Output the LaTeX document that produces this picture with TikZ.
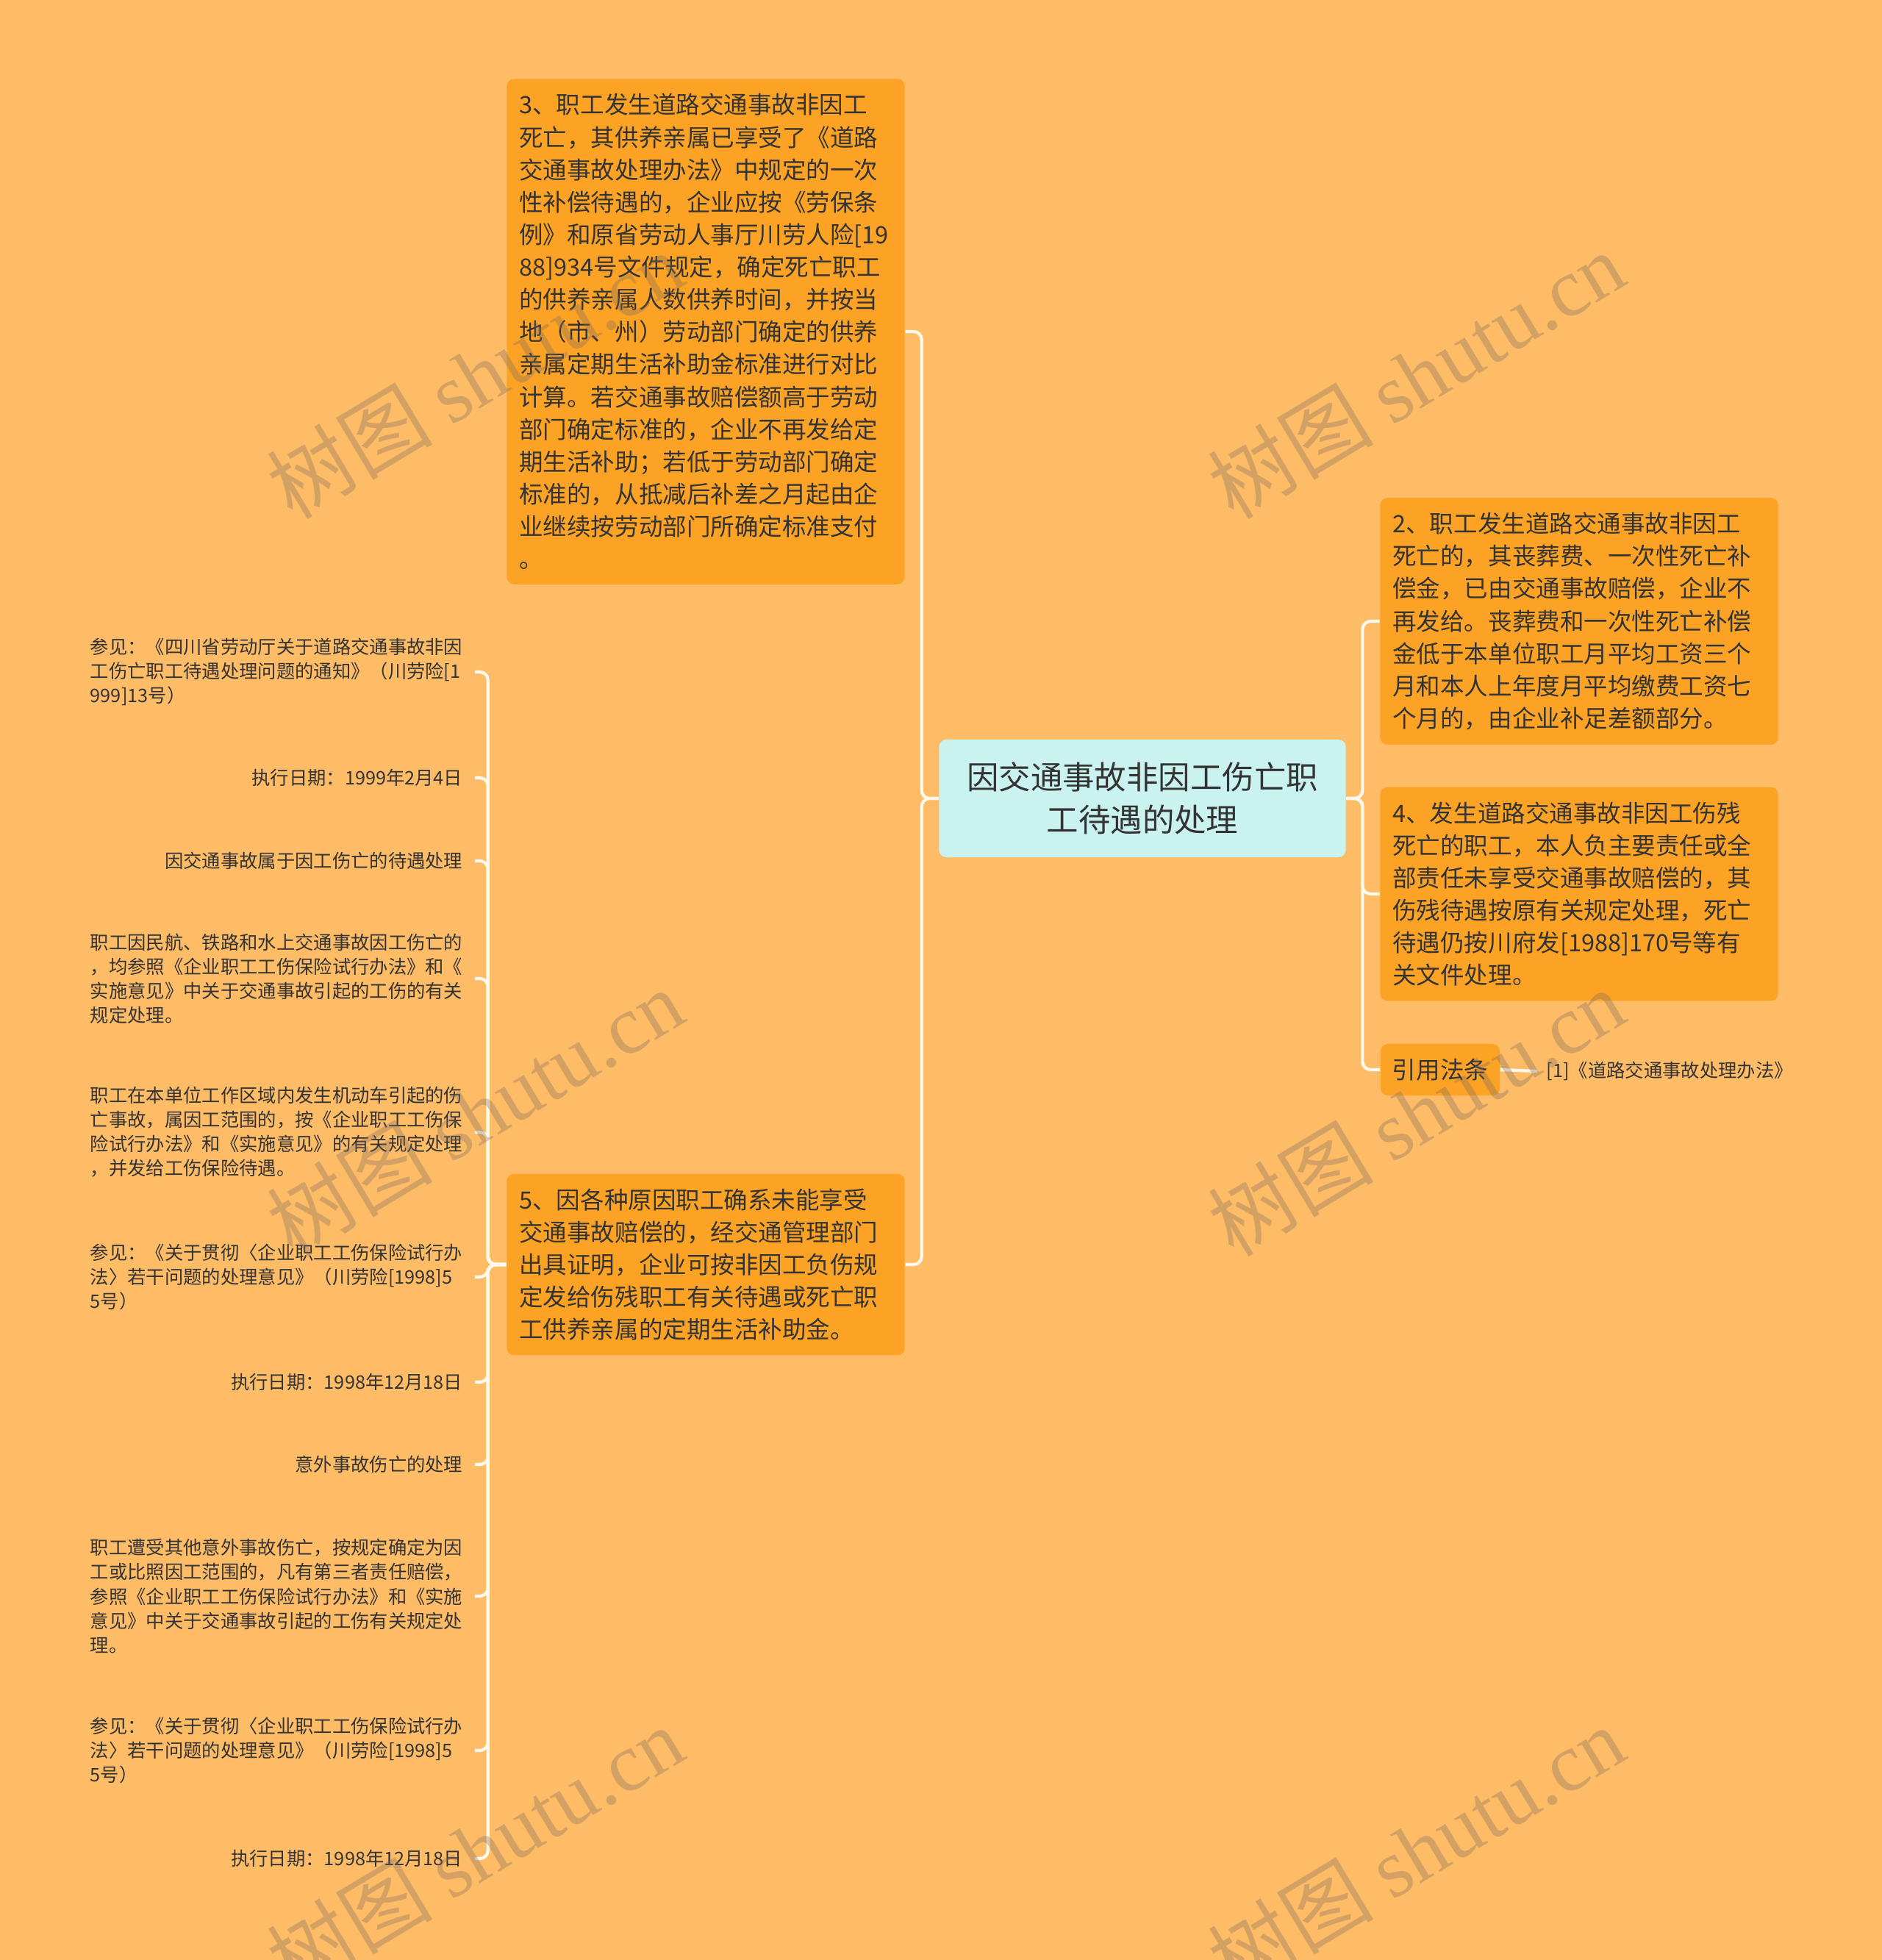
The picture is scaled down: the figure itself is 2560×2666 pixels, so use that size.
\documentclass[tikz,border=0pt]{standalone}
\usepackage{fontspec}
\newfontfamily\cjk{Noto Sans CJK SC}
\newfontfamily\wmserif{Liberation Serif}
\definecolor{bgorange}{RGB}{255,188,103}
\definecolor{boxorange}{RGB}{252,163,38}
\definecolor{rootcyan}{RGB}{202,242,238}
\definecolor{inkdark}{RGB}{51,51,51}
\definecolor{linkwhite}{RGB}{255,248,236}
\definecolor{wmgray}{RGB}{120,105,95}

\tikzset{
  topic/.style={fill=boxorange, rounded corners=0.1cm, text=inkdark,
    font=\fontsize{9.25pt}{12.55pt}\selectfont\cjk, align=left,
    text width=5.07cm, inner xsep=0.17cm, inner ysep=0.2cm},
  leaf/.style={text=inkdark, font=\fontsize{7.2pt}{9.4pt}\selectfont\cjk,
    align=left, anchor=east, inner xsep=0.16cm, inner ysep=0.04cm},
  link/.style={draw=linkwhite, line width=1.2pt, rounded corners=0.11cm},
  wmark/.style={text=wmgray, opacity=0.32, rotate=31,
    font=\fontsize{32pt}{36pt}\selectfont}
}

\begin{document}
\begin{tikzpicture}[x=0.01cm, y=-0.01cm]
\fill[bgorange] (0,0) rectangle (2560,2666);
\useasboundingbox (0,0) rectangle (2560,2666);

% root
\node[fill=rootcyan, rounded corners=0.1cm, text=inkdark, align=center,
  font=\fontsize{12.35pt}{16.5pt}\selectfont\cjk,
  minimum width=5.53cm, minimum height=1.6cm] (root) at (1554,1086)
  {因交通事故非因工伤亡职\\工待遇的处理};

% left branches
\node[topic] (t3) at (960,451) {3、职工发生道路交通事故非因工\\死亡，其供养亲属已享受了《道路\\交通事故处理办法》中规定的一次\\性补偿待遇的，企业应按《劳保条\\例》和原省劳动人事厅川劳人险[19\\88]934号文件规定，确定死亡职工\\的供养亲属人数供养时间，并按当\\地（市、州）劳动部门确定的供养\\亲属定期生活补助金标准进行对比\\计算。若交通事故赔偿额高于劳动\\部门确定标准的，企业不再发给定\\期生活补助；若低于劳动部门确定\\标准的，从抵减后补差之月起由企\\业继续按劳动部门所确定标准支付\\。};
\node[topic] (t5) at (960,1720) {5、因各种原因职工确系未能享受\\交通事故赔偿的，经交通管理部门\\出具证明，企业可按非因工负伤规\\定发给伤残职工有关待遇或死亡职\\工供养亲属的定期生活补助金。};

% right branches
\node[topic] (t2) at (2148,845) {2、职工发生道路交通事故非因工\\死亡的，其丧葬费、一次性死亡补\\偿金，已由交通事故赔偿，企业不\\再发给。丧葬费和一次性死亡补偿\\金低于本单位职工月平均工资三个\\月和本人上年度月平均缴费工资七\\个月的，由企业补足差额部分。};
\node[topic] (t4) at (2148,1216) {4、发生道路交通事故非因工伤残\\死亡的职工，本人负主要责任或全\\部责任未享受交通事故赔偿的，其\\伤残待遇按原有关规定处理，死亡\\待遇仍按川府发[1988]170号等有\\关文件处理。};
\node[topic, text width=, inner xsep=0.16cm] (cite) at (1959,1455) {引用法条};
\node[leaf, anchor=west, inner xsep=0.12cm] (law) at (2091,1457) {[1]《道路交通事故处理办法》};

% leaves of 5
\node[leaf] (l1) at (646,914) {参见：《四川省劳动厅关于道路交通事故非因\\工伤亡职工待遇处理问题的通知》（川劳险[1\\999]13号）};
\node[leaf] (l2) at (646,1058) {执行日期：1999年2月4日};
\node[leaf] (l3) at (646,1171) {因交通事故属于因工伤亡的待遇处理};
\node[leaf] (l4) at (646,1331) {职工因民航、铁路和水上交通事故因工伤亡的\\，均参照《企业职工工伤保险试行办法》和《\\实施意见》中关于交通事故引起的工伤的有关\\规定处理。};
\node[leaf] (l5) at (646,1540) {职工在本单位工作区域内发生机动车引起的伤\\亡事故，属因工范围的，按《企业职工工伤保\\险试行办法》和《实施意见》的有关规定处理\\，并发给工伤保险待遇。};
\node[leaf] (l6) at (646,1737) {参见：《关于贯彻〈企业职工工伤保险试行办\\法〉若干问题的处理意见》（川劳险[1998]5\\5号）};
\node[leaf] (l7) at (646,1880) {执行日期：1998年12月18日};
\node[leaf] (l8) at (646,1992) {意外事故伤亡的处理};
\node[leaf] (l9) at (646,2171) {职工遭受其他意外事故伤亡，按规定确定为因\\工或比照因工范围的，凡有第三者责任赔偿，\\参照《企业职工工伤保险试行办法》和《实施\\意见》中关于交通事故引起的工伤有关规定处\\理。};
\node[leaf] (l10) at (646,2381) {参见：《关于贯彻〈企业职工工伤保险试行办\\法〉若干问题的处理意见》（川劳险[1998]5\\5号）};
\node[leaf] (l11) at (646,2528) {执行日期：1998年12月18日};

% connectors
\foreach \k in {t3,t5}
  \draw[link] (root.west) -- ++(-23,0) |- (\k.east);
\foreach \k in {t2,t4,cite}
  \draw[link] (root.east) -- ++(22,0) |- (\k.west);
\foreach \k in {l1,l2,l3,l4,l5,l6,l7,l8,l9,l10,l11}
  \draw[link] (t5.west) -- ++(-25,0) |- (\k.east);
\draw[link] (cite.east) -- (law.west);

% watermarks
\foreach \wx/\wy in {646/510,1926/510,646/1513,1926/1513,646/2516,1926/2516}
  \node[wmark] at (\wx,\wy) {\cjk 树图 \wmserif shutu.cn};
\end{tikzpicture}
\end{document}
